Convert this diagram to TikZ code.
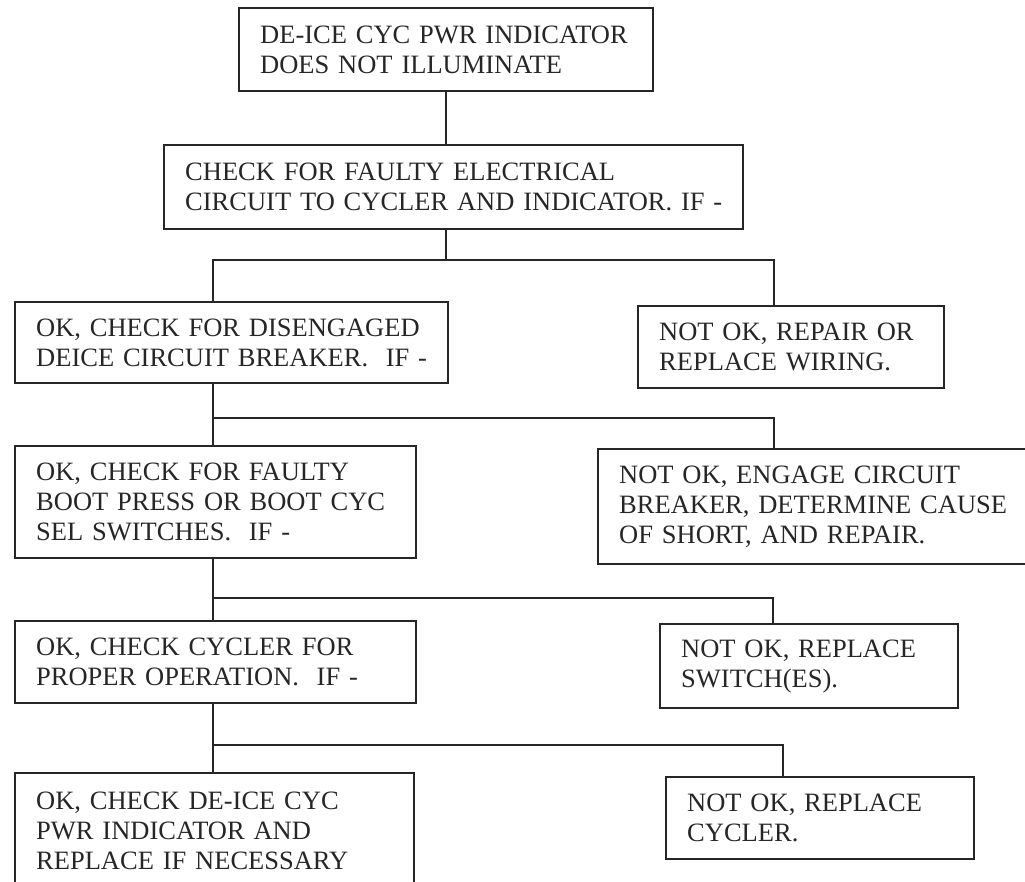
\documentclass[tikz,border=0pt]{standalone}
\usepackage{fontspec}
\setmainfont{Liberation Serif}
\usepackage{xcolor}
\usepackage{tikz}
\usetikzlibrary{calc,positioning}
\definecolor{ink}{HTML}{262626}
\tikzset{
  box/.style={draw=ink,line width=2.4pt,anchor=north west,align=left,inner xsep=21pt,inner ysep=0pt,
    text=ink,font=\fontsize{26.5}{30}\selectfont},
  ln/.style={draw=ink,line width=2pt}
}

\begin{document}
\begin{tikzpicture}[x=1pt,y=-1pt]
\useasboundingbox (0,0) rectangle (1025,882);
\clip (0,0) rectangle (1025,882);
\node[box,text width=372pt,minimum height=83pt] (top) at (238,7) {DE-ICE CYC PWR INDICATOR\\DOES NOT ILLUMINATE};
\node[box,text width=537pt,minimum height=84pt] (chk) at (163,144) {CHECK FOR FAULTY ELECTRICAL\\\mbox{CIRCUIT TO CYCLER AND INDICATOR.\ IF -}};
\node[box,text width=391pt,minimum height=81pt] (ok1) at (14,301) {OK, CHECK FOR DISENGAGED\\DEICE CIRCUIT BREAKER.\ \ IF -};
\node[box,text width=264pt,minimum height=82pt] (bad1) at (637,305) {NOT OK, REPAIR OR\\REPLACE WIRING.};
\node[box,text width=359pt,minimum height=112pt] (ok2) at (14,445) {OK, CHECK FOR FAULTY\\BOOT PRESS OR BOOT CYC\\SEL SWITCHES.\ \ IF -};
\node[box,text width=389pt,minimum height=115pt] (bad2) at (597,448) {NOT OK, ENGAGE CIRCUIT\\BREAKER, DETERMINE CAUSE\\OF SHORT, AND REPAIR.};
\node[box,text width=359pt,minimum height=82pt] (ok3) at (14,620) {OK, CHECK CYCLER FOR\\PROPER OPERATION.\ \ IF -};
\node[box,text width=256pt,minimum height=84pt] (bad3) at (659,623) {NOT OK, REPLACE\\SWITCH(ES).};
\node[box,text width=266pt,minimum height=82pt] (bad4) at (665,776) {NOT OK, REPLACE\\CYCLER.};
\node[box,text width=357pt,minimum height=116pt] (ok4) at (14,772) {OK, CHECK DE-ICE CYC\\PWR INDICATOR AND\\REPLACE IF NECESSARY};
\coordinate (sp) at (213,0);
\coordinate (r1) at (774,260);
\coordinate (r2) at (774,418);
\coordinate (r3) at (773,598);
\coordinate (r4) at (783,745);
\draw[ln] (top.south) -- (top.south |- chk.north);
\draw[ln] (top.south |- chk.south) -- (top.south |- r1);
\draw[ln] (sp |- ok1.north) -- (sp |- r1) -- (r1) -- (r1 |- bad1.north);
\draw[ln] (sp |- ok1.south) -- (sp |- ok2.north);
\draw[ln] (sp |- r2) -- (r2) -- (r2 |- bad2.north);
\draw[ln] (sp |- ok2.south) -- (sp |- ok3.north);
\draw[ln] (sp |- r3) -- (r3) -- (r3 |- bad3.north);
\draw[ln] (sp |- ok3.south) -- (sp |- ok4.north);
\draw[ln] (sp |- r4) -- (r4) -- (r4 |- bad4.north);
\end{tikzpicture}
\end{document}
